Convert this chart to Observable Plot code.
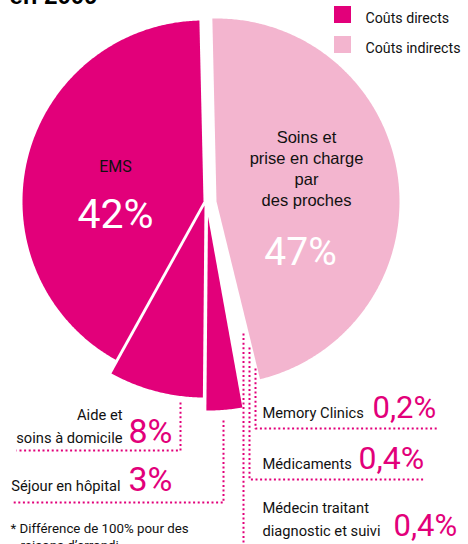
<!DOCTYPE html>
<html>
<head>
<meta charset="utf-8">
<script src="https://cdn.jsdelivr.net/npm/d3@7"></script>
<script src="https://cdn.jsdelivr.net/npm/@observablehq/plot@0.6"></script>
<style>
html, body { margin: 0; padding: 0; background: #fff; overflow: hidden; }
#chart svg { display: block; }
</style>
</head>
<body>
<div id="chart"></div>
<script>
// ---------- DATA ----------
const titleText = "en 2009";
const categories = [
  "EMS",
  "Aide et\nsoins à domicile",
  "Séjour en hôpital",
  "Memory Clinics",
  "Médicaments",
  "Médecin traitant\ndiagnostic et suivi",
  "Soins et\nprise en charge\npar\ndes proches"
];
const shares = [42, 8, 3, 0.2, 0.4, 0.4, 47];
const shareLabels = ["42%", "8%", "3%", "0,2%", "0,4%", "0,4%", "47%"];
const costTypes = ["Coûts directs", "Coûts directs", "Coûts directs", "Coûts directs", "Coûts directs", "Coûts directs", "Coûts indirects"];
const legendLabels = ["Coûts directs", "Coûts indirects"];
const footnoteLines = ["* Différence de 100% pour des", "raisons d’arrondi"];
// clockwise drawing order from 12 o'clock (indices into categories)
const drawOrder = [6, 5, 4, 3, 2, 1, 0];

// ---------- STYLE / LAYOUT ----------
const palette = ["#e2007a", "#f3b5cf"];
const magenta = palette[0];
const labelFont = "Roboto, Arial, sans-serif";
const numberFont = "Roboto, sans-serif";
const regular = "'Liberation Sans', Arial, Helvetica, sans-serif";
const W = 468, H = 544;
const rotation = -1.3; // degrees
// exploded centre and radius of each slice (null = too thin to show)
const sliceGeom = [
  {cx: 203, cy: 201, r: 181},
  {cx: 204, cy: 205, r: 192},
  {cx: 207.5, cy: 216, r: 194},
  null, null, null,
  {cx: 216, cy: 201, r: 183}
];

// ---------- SLICES ----------
const total = d3.sum(shares);
let acc = 0;
const slicePoints = [];
for (const i of drawOrder) {
  const a0 = rotation + acc / total * 360;
  acc += shares[i];
  const a1 = rotation + acc / total * 360;
  const g = sliceGeom[i];
  if (!g) continue;
  const key = categories[i];
  slicePoints.push({key, type: costTypes[i], x: g.cx, y: g.cy});
  const n = Math.max(2, Math.ceil((a1 - a0) / 0.5));
  for (let k = 0; k <= n; k++) {
    const a = (a0 + (a1 - a0) * k / n) * Math.PI / 180;
    slicePoints.push({key, type: costTypes[i], x: g.cx + g.r * Math.sin(a), y: g.cy - g.r * Math.cos(a)});
  }
}

// ---------- ANNOTATION LAYOUT ----------
const nameGeom = [
  {x: 115, y: 171, anchor: "middle", size: 16},
  {x: 122, y: 442, anchor: "end", size: 14.7},
  {x: 120, y: 490, anchor: "end", size: 14.7},
  {x: 262, y: 417, anchor: "start", size: 14.7},
  {x: 262, y: 468, anchor: "start", size: 14.7},
  {x: 262, y: 535, anchor: "start", size: 14.7},
  {x: 306, y: 205, anchor: "middle", size: 16.5}
];
const lineHeights = {middle: 1.3, end: 1.56, start: 1.5};
const shareGeom = [
  {x: 115, y: 227, size: 41, color: "#ffffff", anchor: "middle"},
  {x: 128, y: 442, size: 34, color: magenta, anchor: "start"},
  {x: 128, y: 490, size: 34, color: magenta, anchor: "start"},
  {x: 372, y: 417, size: 31, color: magenta, anchor: "start"},
  {x: 358, y: 468, size: 32, color: magenta, anchor: "start"},
  {x: 393, y: 535, size: 31, color: magenta, anchor: "start"},
  {x: 300, y: 264, size: 39, color: "#ffffff", anchor: "middle"}
];
const leaderGeom = [
  null,
  [[180, 402], [180, 450], [16, 450]],
  [[223, 420], [223, 502], [12, 502]],
  [[255, 368], [255, 428], [437, 428]],
  [[249, 347], [249, 479], [425, 479]],
  [[243, 333], [243, 548]],
  null
];
const leaderPoints = [];
leaderGeom.forEach((pts, i) => {
  if (pts) pts.forEach(([x, y]) => leaderPoints.push({key: categories[i], x, y}));
});

const idx = d3.range(categories.length);
const byAnchor = a => idx.filter(i => nameGeom[i].anchor === a && i !== 6);
const shareByAnchor = a => idx.filter(i => shareGeom[i].anchor === a);

const plot = Plot.plot({
  width: W,
  height: H,
  margin: 0,
  x: {domain: [0, W], range: [0, W], axis: null},
  y: {domain: [0, H], range: [0, H], axis: null},
  color: {domain: legendLabels, range: palette},
  marks: [
    // title (cropped at top in the original)
    Plot.text([titleText], {x: () => 9, y: () => 3.5, text: d => d, textAnchor: "start", lineAnchor: "bottom",
      fontFamily: regular, fontWeight: "bold", fontSize: 24, fill: "#000"}),
    // pie slices
    Plot.line(slicePoints, {x: "x", y: "y", z: "key", fill: "type", stroke: "none", curve: "linear-closed"}),
    // dotted leaders
    Plot.line(leaderPoints, {x: "x", y: "y", z: "key", stroke: magenta, strokeWidth: 2, strokeDasharray: "2,2.6", strokeLinecap: "butt"}),
    // legend
    Plot.rect(legendLabels, {x1: () => 334, x2: () => 351, y1: (d, i) => 6 + 30 * i, y2: (d, i) => 23 + 30 * i, fill: d => d}),
    Plot.text(legendLabels, {x: () => 365, y: (d, i) => 22 + 30 * i, text: d => d, textAnchor: "start", lineAnchor: "bottom",
      fontFamily: labelFont, fontSize: 14.2, fill: "#111"}),
    // category names
    ...["middle", "end", "start"].map(a => Plot.text(byAnchor(a), {
      x: i => nameGeom[i].x, y: i => nameGeom[i].y, text: i => categories[i],
      textAnchor: a, lineAnchor: "bottom", lineHeight: lineHeights[a],
      fontFamily: labelFont, fontSize: i => nameGeom[i].size, fill: "#111"})),
    Plot.text([6], {x: i => nameGeom[i].x, y: i => nameGeom[i].y, text: i => categories[i],
      textAnchor: "middle", lineAnchor: "bottom", lineHeight: 1.27,
      fontFamily: regular, fontSize: i => nameGeom[i].size, fill: "#111"}),
    // share values
    ...["middle", "start"].map(a => Plot.text(shareByAnchor(a), {
      x: i => shareGeom[i].x, y: i => shareGeom[i].y, text: i => shareLabels[i],
      textAnchor: a, lineAnchor: "bottom",
      fontFamily: numberFont, fontSize: i => shareGeom[i].size, fill: i => shareGeom[i].color})),
    // footnote
    Plot.text(footnoteLines, {x: (d, i) => (i === 0 ? 10 : 20), y: (d, i) => (i === 0 ? 532 : 549), text: d => d,
      textAnchor: "start", lineAnchor: "bottom", fontFamily: labelFont, fontSize: 13.3, fill: "#111"})
  ]
});

document.getElementById("chart").append(plot);
</script>
</body>
</html>
